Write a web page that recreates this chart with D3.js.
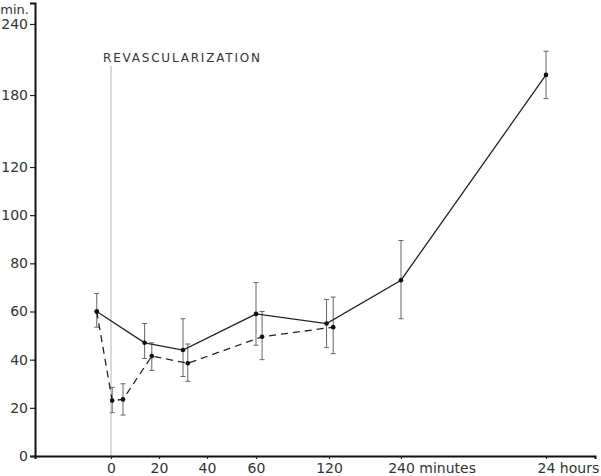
<!DOCTYPE html>
<html>
<head>
<meta charset="utf-8">
<script src="https://cdn.jsdelivr.net/npm/d3@7"></script>
<style>
  body { margin: 0; background: #fff; }
  text { font-family: "DejaVu Sans", sans-serif; fill: #333; }
</style>
</head>
<body>
<div id="chart-area"></div>
<script>
// values (minutes after revascularization)
var solidTime = [-6, 14, 30, 60, 118, 240, 1440];
var solidVal  = [60, 47, 44, 59, 55, 73, 197];
var solidHi   = [67.5, 55, 57, 72, 65, 89.5, 217];
var solidLo   = [53.5, 40.5, 33, 46, 45, 57, 177];

var dashTime = [-6, 0.5, 5, 17, 32, 65, 127];
var dashVal  = [60, 23, 23.5, 41.5, 38.5, 49.5, 53.5];
var dashHi   = [null, 28.5, 30, 47, 46.5, 60, 66];
var dashLo   = [null, 18, 17, 35.5, 31, 40, 42.5];

var xTicks  = [0, 20, 40, 60, 120, 240, 1440];
var xLabels = ["0", "20", "40", "60", "120", "240", "24"];
var xUnits  = ["", "", "", "", "", "minutes", "hours"];
var yTicks  = [0, 20, 40, 60, 80, 100, 120, 180, 240];

var width = 601, height = 476;

var svg = d3.select("#chart-area")
    .append("svg")
        .attr("width", width)
        .attr("height", height);

// broken scales, as in the original figure
var x = d3.scaleLinear()
    .domain([-32, 0, 20, 40, 60, 120, 240, 1440, 1850])
    .range([35, 111, 159, 207, 256, 329, 401, 546, 595]);

var y = d3.scaleLinear()
    .domain([0, 120, 180, 240, 258])
    .range([456, 167, 95, 24, 3]);

function pts(t, v) {
    return t.map(function(d, i) { return { t: d, v: v[i] }; });
}
var solid = pts(solidTime, solidVal);
var dashed = pts(dashTime, dashVal);

// revascularization marker
svg.append("line")
    .attr("x1", x(0)).attr("x2", x(0))
    .attr("y1", 66).attr("y2", y(0))
    .attr("stroke", "#b5b5b5")
    .attr("stroke-width", 1);

svg.append("text")
    .attr("x", 103)
    .attr("y", 62)
    .attr("font-size", "12px")
    .attr("textLength", 157)
    .attr("fill", "#444")
    .text("REVASCULARIZATION");

// axes
var yAxisCall = d3.axisLeft(y)
    .tickValues(yTicks)
    .tickSize(5)
    .tickPadding(2)
    .tickFormat(function(d) { return d; });

var yg = svg.append("g")
    .attr("class", "y-axis")
    .attr("transform", "translate(" + x(-32) + ",0)")
    .call(yAxisCall);

var xAxisCall = d3.axisBottom(x)
    .tickValues(xTicks)
    .tickSize(3)
    .tickPadding(4)
    .tickFormat(function(d, i) { return xLabels[i]; });

var xg = svg.append("g")
    .attr("class", "x-axis")
    .attr("transform", "translate(0," + y(0) + ")")
    .call(xAxisCall);

[yg, xg].forEach(function(g) {
    g.select(".domain").attr("stroke", "#111").attr("stroke-width", 2);
    g.selectAll(".tick line").attr("stroke", "#222").attr("stroke-width", 1.2);
    g.selectAll(".tick text")
        .attr("font-size", "14px")
        .attr("fill", "#333")
        .style("font-family", "DejaVu Sans, sans-serif");
});

// unit words after the last two x labels, number stays centred on its tick
xg.selectAll(".tick text").each(function(d, i) {
    if (xUnits[i]) {
        var w = this.getComputedTextLength();
        d3.select(this).attr("text-anchor", "start").attr("x", -w / 2)
            .append("tspan").text(" " + xUnits[i]);
    }
});

svg.append("text")
    .attr("x", 29)
    .attr("y", 14)
    .attr("text-anchor", "end")
    .attr("font-size", "13px")
    .text("min.");

// error bars
function errorBars(t, hi, lo) {
    var g = svg.append("g");
    t.forEach(function(d, i) {
        if (hi[i] == null) return;
        var cx = x(d);
        g.append("line")
            .attr("x1", cx).attr("x2", cx)
            .attr("y1", y(hi[i])).attr("y2", y(lo[i]))
            .attr("stroke", "#666").attr("stroke-width", 1);
        [hi[i], lo[i]].forEach(function(v) {
            g.append("line")
                .attr("x1", cx - 2.5).attr("x2", cx + 2.5)
                .attr("y1", y(v)).attr("y2", y(v))
                .attr("stroke", "#666").attr("stroke-width", 1);
        });
    });
}
errorBars(solidTime, solidHi, solidLo);
errorBars(dashTime, dashHi, dashLo);

var line = d3.line()
    .x(function(d) { return x(d.t); })
    .y(function(d) { return y(d.v); });

svg.append("path")
    .attr("d", line(solid))
    .attr("fill", "none")
    .attr("stroke", "#222")
    .attr("stroke-width", 1.3);

svg.append("path")
    .attr("d", line(dashed))
    .attr("fill", "none")
    .attr("stroke", "#222")
    .attr("stroke-width", 1.3)
    .attr("stroke-dasharray", "7,5");

svg.selectAll("circle.pt")
    .data(solid.concat(dashed))
    .enter()
    .append("circle")
        .attr("class", "pt")
        .attr("cx", function(d) { return x(d.t); })
        .attr("cy", function(d) { return y(d.v); })
        .attr("r", 2.3)
        .attr("fill", "#111");
</script>
</body>
</html>
